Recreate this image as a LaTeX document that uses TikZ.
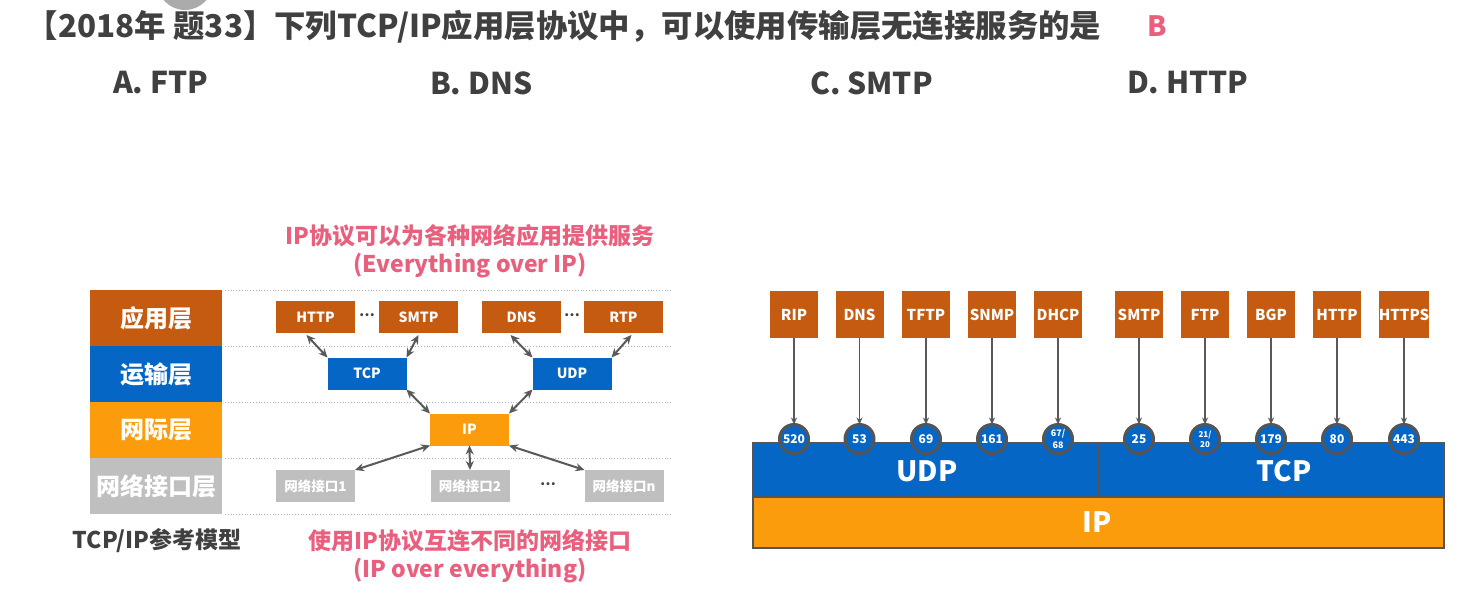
\documentclass[tikz,border=0pt]{standalone}
\usepackage{fontspec}
\setmainfont{Noto Sans CJK SC}
\usetikzlibrary{arrows.meta}
\definecolor{cbrown}{HTML}{C55A11}
\definecolor{cblue}{HTML}{0566C6}
\definecolor{corange}{HTML}{FA9C0C}
\definecolor{cgray}{HTML}{BFBFBF}
\definecolor{cpink}{HTML}{E9607E}
\definecolor{ctitle}{HTML}{404040}
\definecolor{cdark}{HTML}{595959}
\definecolor{cborder}{HTML}{555555}
\definecolor{cline}{HTML}{B5B5B5}
\definecolor{cblob}{HTML}{ABABAB}
\newcommand\setfs[1]{\fontsize{#1}{#1}\selectfont}
\begin{document}
\begin{tikzpicture}[x=1pt,y=-1pt,
  every node/.style={inner sep=0pt, outer sep=0pt},
  layerbox/.style={minimum width=132pt, minimum height=56pt, text=white, font=\bfseries\setfs{24}},
  cell/.style={minimum width=79pt, minimum height=32pt, text=white, font=\bfseries\setfs{14}},
  dual/.style={{Stealth[length=9pt,width=8pt]}-{Stealth[length=9pt,width=8pt]}, line width=2pt, draw=cdark},
  proto/.style={fill=cbrown, minimum width=48pt, minimum height=47pt, text=white, font=\bfseries\setfs{15}},
  port/.style={circle, fill=cblue, draw=cborder, line width=3pt, minimum size=29pt, text=white, font=\bfseries\setfs{12}},
  down/.style={-{Stealth[length=7pt,width=6pt]}, line width=1.5pt, draw=cdark},
  pinktext/.style={text=cpink, font=\bfseries\setfs{23}},
  dotline/.style={draw=cline, dotted, line width=0.8pt},
  ellip/.style={text=ctitle, font=\bfseries\setfs{14}},
  option/.style={anchor=west, text=ctitle, font=\bfseries\setfs{30}},
  bar/.style={draw=cborder, line width=1.6pt}
]
\useasboundingbox (0,0) rectangle (1476,595);
\fill[white] (0,0) rectangle (1476,595);
\fill[cblob] (185,-18) circle[radius=28pt];

% title and options
\node[anchor=west, text=ctitle, font=\bfseries\setfs{31.4}] (title) at (27,27) {【2018年 题33】下列TCP/IP应用层协议中，可以使用传输层无连接服务的是};
\node[text=cpink, font=\bfseries\setfs{28}] (ans) at (1157,26) {B};
\node[option] (oa) at (113,83) {A. FTP};
\node[option] (ob) at (430,83) {B. DNS};
\node[option] (oc) at (810,83) {C. SMTP};
\node[option] (od) at (1127,83) {D. HTTP};

% left diagram
\node[pinktext] (t1) at (470,236) {IP协议可以为各种网络应用提供服务};
\node[pinktext] (t2) at (470,266) {(Everything over IP)};

\node[layerbox, fill=cbrown] (lapp) at (156,318) {应用层};
\node[layerbox, fill=cblue] (ltr) at (156,374) {运输层};
\node[layerbox, fill=corange] (lnet) at (156,430) {网际层};
\node[layerbox, fill=cgray] (llink) at (156,486) {网络接口层};

\draw[dotline] ([xshift=3pt]lapp.north east) -- ++(447,0);
\draw[dotline] ([xshift=3pt]ltr.north east) -- ++(447,0);
\draw[dotline] ([xshift=3pt]lnet.north east) -- ++(447,0);
\draw[dotline] ([xshift=3pt]llink.north east) -- ++(447,0);
\draw[dotline] ([xshift=3pt]llink.south east) -- ++(447,0);

\node[cell, fill=cbrown] (http) at (315.5,317) {HTTP};
\node[ellip] (d1) at (367,315) {…};
\node[cell, fill=cbrown] (smtp) at (418.5,317) {SMTP};
\node[cell, fill=cbrown] (dns) at (521.5,317) {DNS};
\node[ellip] (d2) at (572,315) {…};
\node[cell, fill=cbrown] (rtp) at (623.5,317) {RTP};
\node[cell, fill=cblue] (tcp) at (367,373.5) {TCP};
\node[cell, fill=cblue] (udp) at (572,373.5) {UDP};
\node[cell, fill=corange] (ip) at (469.5,429.5) {IP};
\node[cell, fill=cgray, font=\bfseries\setfs{13.5}] (if1) at (315.5,486) {网络接口1};
\node[cell, fill=cgray, font=\bfseries\setfs{13.5}] (if2) at (470,486) {网络接口2};
\node[ellip] (d3) at (548,484) {…};
\node[cell, fill=cgray, font=\bfseries\setfs{13.5}] (ifn) at (624,486) {网络接口n};

\draw[dual] ([xshift=-9pt,yshift=-2pt]http.south) -- (tcp.north west);
\draw[dual] ([yshift=-2pt]smtp.south) -- (tcp.north east);
\draw[dual] ([xshift=-11pt,yshift=-2pt]dns.south) -- (udp.north west);
\draw[dual] ([xshift=8pt,yshift=-2pt]rtp.south) -- (udp.north east);
\draw[dual] (tcp.south east) -- (ip.north west);
\draw[dual] (udp.south west) -- (ip.north east);
\draw[dual] (ip.south west) -- (if1.north east);
\draw[dual] (ip.south) -- (if2.north);
\draw[dual] (ip.south east) -- (ifn.north west);

\node[text=ctitle, font=\bfseries\setfs{23}] (cap) at (157,541) {TCP/IP参考模型};
\node[pinktext] (t3) at (470,541) {使用IP协议互连不同的网络接口};
\node[pinktext] (t4) at (470,571) {(IP over everything)};

% right diagram
\node[bar, fill=cblue, minimum width=345pt, minimum height=54pt] (udpbar) at (925.5,470) {};
\node[bar, fill=cblue, minimum width=346pt, minimum height=54pt] (tcpbar) at (1271,470) {};
\node[bar, fill=corange, minimum width=691pt, minimum height=51pt] (ipbar) at (1098.5,522.5) {};
\node[text=white, font=\bfseries\setfs{28}] (udpt) at (927,471) {UDP};
\node[text=white, font=\bfseries\setfs{28}] (tcpt) at (1284,471) {TCP};
\node[text=white, font=\bfseries\setfs{28}] (ipt) at (1097,522) {IP};

\foreach \i/\x/\p/\n in {1/794/RIP/520, 2/859.5/DNS/53, 3/926/TFTP/69, 4/992/SNMP/161,
   5/1058/DHCP/{\setfs{9}\shortstack{67/\\68}}, 6/1139/SMTP/25,
   7/1205/FTP/{\setfs{8}\shortstack{21/\\20}}, 8/1271/BGP/179, 9/1337/HTTP/80, 10/1404/HTTPS/443} {
  \node[proto] (p\i) at (\x,314.5) {\p};
  \node[port] (c\i) at (\x,439) {\n};
  \draw[down] (p\i.south) -- (c\i.north);
}
\end{tikzpicture}
\end{document}
